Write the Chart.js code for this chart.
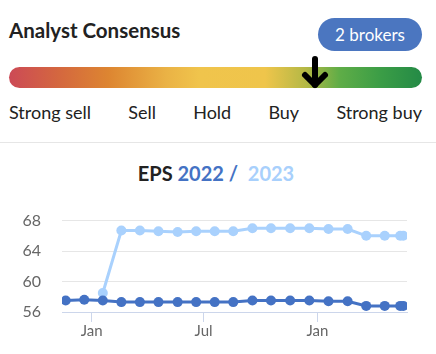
<!DOCTYPE html>
<html>
<head>
<meta charset="utf-8">
<script src="https://cdn.jsdelivr.net/npm/chart.js@4"></script>
<style>
  html, body { margin: 0; padding: 0; background: #fff; }
  body { width: 436px; height: 354px; position: relative; overflow: hidden; font-family: Lato, sans-serif; color: #222; }
  .title { position: absolute; left: 9px; top: 16px; font-size: 20.5px; font-weight: bold; line-height: 28px; }
  .pill { position: absolute; left: 318px; top: 18px; width: 104px; height: 33px; border-radius: 17px; background: #4b76c0; color: #fff; font-size: 17px; line-height: 33px; text-align: center; }
  .bar { position: absolute; left: 9px; top: 67px; width: 413px; height: 21px; border-radius: 11px;
    background: linear-gradient(to right, #cc4a56 0%, #d4673f 12%, #dd8531 24%, #eab245 38%, #f0c44c 46%, #efc54b 62%, #b3b845 72%, #5fad47 80%, #3b9d46 90%, #248a46 100%); }
  .arrow { position: absolute; top: 55px; left: 0; }
  .labels { position: absolute; left: 9px; top: 101px; width: 413px; display: flex; justify-content: space-between; font-size: 18px; line-height: 22px; }
  .sep { position: absolute; left: 0; top: 142px; width: 436px; height: 1px; background: #e6e6e6; }
  .eps { position: absolute; left: 0; top: 160px; width: 432px; text-align: center; font-size: 20px; font-weight: bold; line-height: 26px; }
  .chart-box { position: absolute; left: 0; top: 190px; width: 436px; height: 164px; }
</style>
</head>
<body>
<div class="title">Analyst Consensus</div>
<div class="pill">2 brokers</div>
<div class="bar"></div>
<svg class="arrow" id="arrow" width="30" height="36"></svg>
<div class="labels" id="labels"></div>
<div class="sep"></div>
<div class="eps"><span style="color:#222">EPS </span><span style="color:#4472c4">2022 /</span>&nbsp;&nbsp;<span style="color:#a8d0fc">2023</span></div>
<div class="chart-box"><canvas id="epsChart"></canvas></div>

<script>
// Consensus
const ratingLabels = ['Strong sell', 'Sell', 'Hold', 'Buy', 'Strong buy'];
const consensusPos = 0.74; // share of the bar, 0 = strong sell, 1 = strong buy

// EPS estimates history
const estimateDates = [
  '2021-11-20', '2021-12-20', '2022-01-19', '2022-02-18', '2022-03-20',
  '2022-04-19', '2022-05-20', '2022-06-19', '2022-07-19', '2022-08-18',
  '2022-09-18', '2022-10-18', '2022-11-18', '2022-12-19', '2023-01-19',
  '2023-02-19', '2023-03-21', '2023-04-20', '2023-05-15', '2023-05-20'
];
const eps2022 = [57.5, 57.6, 57.5, 57.3, 57.3, 57.3, 57.3, 57.3, 57.3, 57.3,
  57.5, 57.5, 57.5, 57.5, 57.4, 57.4, 56.8, 56.8, 56.8, 56.8];
const eps2023 = [null, null, 58.5, 66.7, 66.7, 66.6, 66.5, 66.6, 66.6, 66.6,
  67.0, 67.0, 67.0, 67.0, 66.9, 66.9, 66.0, 66.0, 66.0, 66.0];

const xRange = ['2021-11-14', '2023-05-26'];
const xTickDates = ['2022-01-01', '2022-07-01', '2023-01-01'];
const xTickLabels = ['Jan', 'Jul', 'Jan'];
const yTicks = [56, 60, 64, 68];

const BLUE = '#4472c4';
const LIGHT = '#a9d1fd';

function dayNum(s) {
  return (Date.parse(s) - Date.parse(xRange[0])) / 864e5;
}

document.getElementById('labels').innerHTML = ratingLabels.map(l => `<span>${l}</span>`).join('');

// arrow marker on the bar
const arrow = document.getElementById('arrow');
arrow.style.left = (9 + consensusPos * 413 - 15) + 'px';
arrow.innerHTML = `
  <g stroke="#000" stroke-width="6" stroke-linecap="round" stroke-linejoin="round" fill="none">
    <line x1="15" y1="4" x2="15" y2="30"/>
    <polyline points="5,20 15,30 25,20"/>
  </g>`;

const tickDays = xTickDates.map(dayNum);

new Chart(document.getElementById('epsChart'), {
  type: 'line',
  data: {
    datasets: [
      {
        label: '2022',
        data: estimateDates.map((d, i) => ({ x: dayNum(d), y: eps2022[i] })),
        borderColor: BLUE,
        backgroundColor: BLUE,
        borderWidth: 3,
        pointRadius: 5,
        pointBorderWidth: 0,
        pointBackgroundColor: BLUE
      },
      {
        label: '2023',
        data: estimateDates.map((d, i) => ({ x: dayNum(d), y: eps2023[i] })),
        borderColor: LIGHT,
        backgroundColor: LIGHT,
        borderWidth: 3,
        pointRadius: 5,
        pointBorderWidth: 0,
        pointBackgroundColor: LIGHT
      }
    ]
  },
  options: {
    responsive: true,
    maintainAspectRatio: false,
    animation: false,
    devicePixelRatio: 1,
    layout: { padding: { top: 20, left: 0, right: 29, bottom: 0 } },
    plugins: { legend: { display: false }, tooltip: { enabled: false } },
    scales: {
      x: {
        type: 'linear',
        min: 0,
        max: dayNum(xRange[1]),
        afterBuildTicks: scale => { scale.ticks = tickDays.map(v => ({ value: v })); },
        afterFit: scale => { scale.height = 42; },
        ticks: {
          color: '#666',
          font: { family: 'Lato', size: 15 },
          padding: 0,
          maxRotation: 0,
          autoSkip: false,
          callback: v => xTickLabels[tickDays.indexOf(v)]
        },
        grid: { drawOnChartArea: false, drawTicks: true, tickLength: 10, color: '#ccd6eb' },
        border: { display: true, color: '#ccd6eb', width: 1 }
      },
      y: {
        min: yTicks[0],
        max: yTicks[yTicks.length - 1],
        afterBuildTicks: scale => { scale.ticks = yTicks.map(v => ({ value: v })); },
        afterFit: scale => { scale.width = 62; },
        ticks: { color: '#666', font: { family: 'Lato', size: 16 }, padding: 21 },
        grid: { color: '#e6e6e6', drawTicks: false },
        border: { display: false }
      }
    }
  }
});
</script>
</body>
</html>
